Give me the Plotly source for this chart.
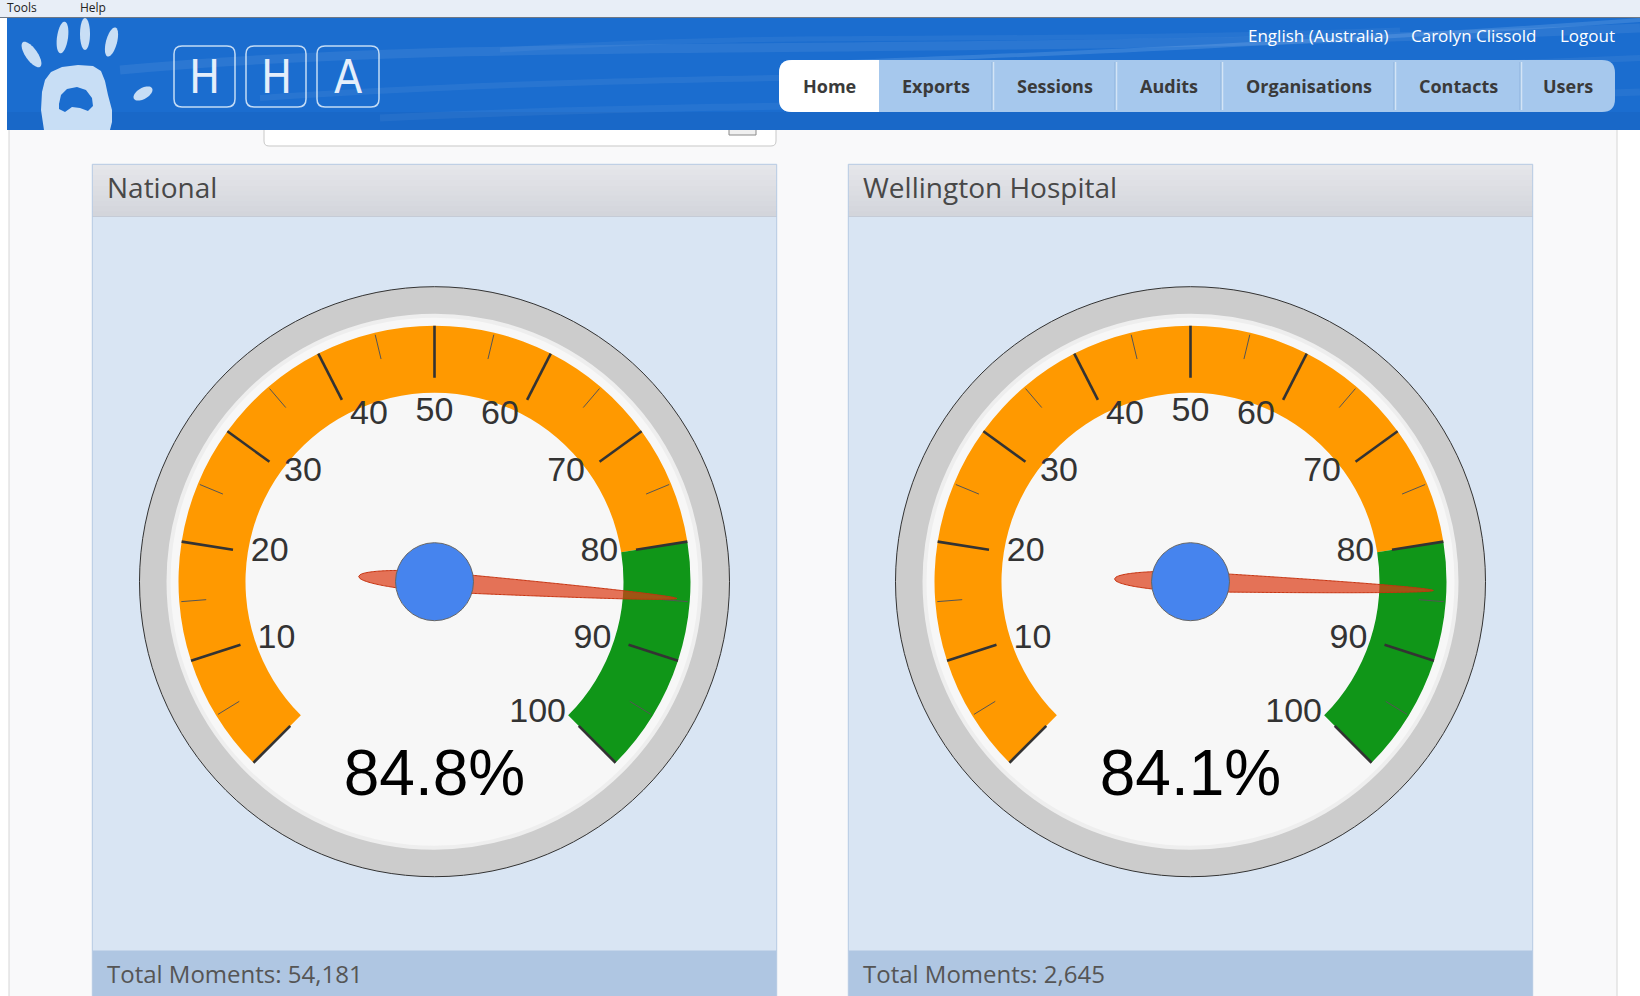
import numpy as np
import plotly.graph_objects as go

# ---------------- data ----------------
gauge_titles = ["National", "Wellington Hospital"]
gauge_values = [84.8, 84.1]
total_moments = [54181, 2645]
gauge_min, gauge_max = 0, 100
band_starts = [0, 80]
band_ends = [80, 100]
band_colors = ["#FF9900", "#109618"]
major_ticks = [0, 10, 20, 30, 40, 50, 60, 70, 80, 90, 100]
tick_labels = ["", "10", "20", "30", "40", "50", "60", "70", "80", "90", "100"]
minor_ticks = [5, 15, 25, 35, 45, 55, 65, 75, 85, 95]
nav_items = ["Home", "Exports", "Sessions", "Audits", "Organisations", "Contacts", "Users"]
user_links = ["English (Australia)", "Carolyn Clissold", "Logout"]
menu_items = ["Tools", "Help"]
logo_letters = ["H", "H", "A"]

# ---------------- page geometry (pixels) ----------------
W, H = 1640, 996


def X(px):
    return px / W


def Y(py):
    return 1 - py / H


def P(x, y):
    return f"{X(x):.6f},{Y(y):.6f}"


GAUGE_CX = [434.5, 1190.5]
GAUGE_CY = 581.7
R_BEZEL = 295
R_FACE = 266
BAND_IN, BAND_OUT = 189, 256
MAJOR_IN, MAJOR_OUT = 204, 256
MINOR_IN, MINOR_OUT = 229, 254
LABEL_R = 186
NEEDLE_TAIL, NEEDLE_TIP, NEEDLE_HALF = 76, 243, 10
HUB_D = 78
VALUE_R, VALUE_THETA = 197, 315
SWEEP = 270.0
START_ANGLE = 225  # direction of the gauge minimum, degrees counter-clockwise from east

PANEL_X = [(92.3, 776.7), (848.3, 1532.7)]
PANEL_TOP, TITLE_BOT, FOOT_TOP = 164.3, 216.5, 950.0
HEADER_TOP, HEADER_BOT = 18, 130
NAV_EDGES = [779, 879, 993, 1116, 1222, 1395, 1521, 1615]
NAV_TOP, NAV_BOT, NAV_Y = 60, 112, 86
LINK_X = [1318, 1473, 1587]
LINK_Y = 35.7
MENU_X = [5, 78]
LOGO_BOX_X = [(174, 235), (246, 306), (317, 379)]
LOGO_BOX_Y = (46, 107)
UI_FONT = "Open Sans, Liberation Sans, sans-serif"
GAUGE_FONT = "Liberation Sans, Arial, sans-serif"


def theta_of(v):
    return (float(v) - gauge_min) / (gauge_max - gauge_min) * SWEEP


def rrect(x0, y0, x1, y1, r, tl=True, tr=True, br=True, bl=True):
    a, b, c, d = (r if tl else 0), (r if tr else 0), (r if br else 0), (r if bl else 0)
    s = f"M{P(x0 + a, y0)} L{P(x1 - b, y0)} Q{P(x1, y0)} {P(x1, y0 + b)} "
    s += f"L{P(x1, y1 - c)} Q{P(x1, y1)} {P(x1 - c, y1)} "
    s += f"L{P(x0 + d, y1)} Q{P(x0, y1)} {P(x0, y1 - d)} "
    s += f"L{P(x0, y0 + a)} Q{P(x0, y0)} {P(x0 + a, y0)} Z"
    return s


def poly(points):
    return "M" + " L".join(P(x, y) for x, y in points) + " Z"


def ellipse(cx, cy, rx, ry, ang, n=48):
    t = np.linspace(0, 2 * np.pi, n, endpoint=False)
    u, v = rx * np.cos(t), ry * np.sin(t)
    a = np.radians(ang)
    xs = cx + u * np.cos(a) + v * np.sin(a)
    ys = cy - u * np.sin(a) + v * np.cos(a)
    return poly(list(zip(xs, ys)))


shapes = []


def rect(x0, y0, x1, y1, fill, line=None, lw=0):
    shapes.append(dict(type="rect", xref="paper", yref="paper", x0=X(x0), x1=X(x1), y0=Y(y1), y1=Y(y0),
                       fillcolor=fill, line=dict(color=line or fill, width=lw), layer="below"))


def path(d, fill=None, line=None, lw=0):
    shapes.append(dict(type="path", xref="paper", yref="paper", path=d,
                       fillcolor=fill or "rgba(0,0,0,0)",
                       line=dict(color=line or "rgba(0,0,0,0)", width=lw), layer="below"))


def hline(x0, x1, y, color, lw=1):
    shapes.append(dict(type="line", xref="paper", yref="paper", x0=X(x0), x1=X(x1), y0=Y(y), y1=Y(y),
                       line=dict(color=color, width=lw), layer="below"))


def vline(x, y0, y1, color, lw=1):
    shapes.append(dict(type="line", xref="paper", yref="paper", x0=X(x), x1=X(x), y0=Y(y0), y1=Y(y1),
                       line=dict(color=color, width=lw), layer="below"))


# page body
rect(9, HEADER_BOT, 1617, H + 2, "#f9f9fa")
vline(9, HEADER_BOT, H, "#d6d6d6")
vline(1617, HEADER_BOT, H, "#d6d6d6")
# search box remnant
path(rrect(264, 96, 776, 146, 5), fill="#ffffff", line="#c8c8c8", lw=1)
rect(729, 118, 756, 135, "#f0f0f0", "#8a8a8a", 1)

# top menu strip
rect(0, 0, W, 17, "#e8eef7")
hline(0, W, 17.5, "#6e7886", 1)

# header
rect(7, HEADER_TOP, W, HEADER_BOT, "#1b6dcf")
rect(7, 112, W, HEADER_BOT, "#1968c8")
for d, col, lw in [
    (f"M{P(120, 70)} C{P(500, 35)} {P(900, 60)} {P(1640, 28)}", "rgba(255,255,255,0.07)", 9),
    (f"M{P(260, 98)} C{P(700, 68)} {P(1100, 82)} {P(1640, 58)}", "rgba(255,255,255,0.06)", 6),
    (f"M{P(380, 118)} C{P(800, 98)} {P(1200, 108)} {P(1640, 92)}", "rgba(255,255,255,0.05)", 7),
    (f"M{P(850, 62)} C{P(1100, 52)} {P(1300, 44)} {P(1640, 20)}", "rgba(190,225,255,0.16)", 4),
    (f"M{P(500, 50)} C{P(800, 30)} {P(1000, 45)} {P(1400, 30)}", "rgba(255,255,255,0.05)", 5),
]:
    path(d, line=col, lw=lw)

# logo hand
LOGO = "#c8def5"
for cx, cy, rx, ry, ang in [(31.5, 54.5, 6, 15, 35), (62.5, 37.5, 5.5, 16, -8), (85, 34, 5, 16, 0),
                            (111.5, 42, 5.5, 15, -15), (143, 93.5, 10.5, 5.5, 30)]:
    path(ellipse(cx, cy, rx, ry, ang), fill=LOGO)
path(poly([(44, 130), (41, 110), (42, 92), (45, 80), (51, 72), (62, 67), (78, 65), (93, 66), (101, 71),
           (105, 81), (108, 95), (112, 110), (112, 122), (110, 130)]), fill=LOGO)
path(poly([(59, 104), (61, 95), (67, 89), (77, 87), (86, 90), (92, 98), (93, 106), (88, 111), (80, 108),
           (72, 107), (65, 112), (59, 109)]), fill="#1b6dcf")
for x0, x1 in LOGO_BOX_X:
    path(rrect(x0, LOGO_BOX_Y[0], x1, LOGO_BOX_Y[1], 8), line="rgba(225,238,252,0.85)", lw=1.5)

# nav bar
path(rrect(NAV_EDGES[0], NAV_TOP, NAV_EDGES[-1], NAV_BOT, 13), fill="#a6c8ed")
path(rrect(NAV_EDGES[0], NAV_TOP, NAV_EDGES[1], NAV_BOT, 13, tr=False, br=False), fill="#ffffff")
for xe in NAV_EDGES[2:-1]:
    vline(xe - 1, NAV_TOP + 2, NAV_BOT - 2, "#8fb3dc", 1)
    vline(xe + 0.5, NAV_TOP + 2, NAV_BOT - 2, "#d3e4f6", 1.5)

# panels
for (x0, x1) in PANEL_X:
    rect(x0, TITLE_BOT, x1, FOOT_TOP, "#d9e5f3")
    rect(x0, FOOT_TOP, x1, H + 2, "#afc6e2")
    hline(x0, x1, FOOT_TOP + 0.5, "#c4d5ea", 1)
    top_c, bot_c = np.array([230, 231, 235]), np.array([211, 213, 219])
    n = 10
    for k in range(n):
        c = top_c + (bot_c - top_c) * (k + 0.5) / n
        ya = PANEL_TOP + (TITLE_BOT - PANEL_TOP) * k / n
        yb = PANEL_TOP + (TITLE_BOT - PANEL_TOP) * (k + 1) / n + 0.6
        rect(x0, ya, x1, yb, f"rgb({int(c[0])},{int(c[1])},{int(c[2])})")
    hline(x0, x1, TITLE_BOT, "#c5cbd6", 1)
    rect(x0, PANEL_TOP, x1, H + 3, "rgba(0,0,0,0)", "#b6cae3", 1)

# gauge bezels
for cx in GAUGE_CX:
    shapes.append(dict(type="circle", xref="paper", yref="paper",
                       x0=X(cx - R_BEZEL), x1=X(cx + R_BEZEL), y0=Y(GAUGE_CY + R_BEZEL), y1=Y(GAUGE_CY - R_BEZEL),
                       fillcolor="#cccccc", line=dict(color="#333333", width=1), layer="below"))

# ---------------- gauges ----------------
fig = go.Figure()
polars = {}


def label_position(v):
    # screen x-direction of the tick: left half labels start at the point, right half end there
    sx = np.cos(np.radians(START_ANGLE - theta_of(v)))
    if abs(sx) < 1e-6:
        return "bottom center"
    return "middle right" if sx < 0 else "middle left"


for i, val in enumerate(gauge_values):
    sp = "polar" if i == 0 else f"polar{i + 1}"
    cx = GAUGE_CX[i]
    polars[sp] = dict(
        domain=dict(x=[X(cx - R_FACE), X(cx + R_FACE)], y=[Y(GAUGE_CY + R_FACE), Y(GAUGE_CY - R_FACE)]),
        bgcolor="#f7f7f7",
        radialaxis=dict(range=[0, R_FACE], visible=False),
        angularaxis=dict(rotation=START_ANGLE, direction="clockwise", showgrid=False, showticklabels=False,
                         ticks="", showline=True, linecolor="#eeeeee", linewidth=4),
    )
    # colour bands
    fig.add_trace(go.Barpolar(
        r=[BAND_OUT - BAND_IN] * len(band_starts), base=[BAND_IN] * len(band_starts),
        theta=[theta_of((s + e) / 2) for s, e in zip(band_starts, band_ends)],
        width=[theta_of(e) - theta_of(s) for s, e in zip(band_starts, band_ends)],
        marker=dict(color=band_colors, line=dict(width=0)), subplot=sp, hoverinfo="skip", showlegend=False))

    def segs(vals, r0, r1):
        rr, tt = [], []
        for v in vals:
            rr += [r0, r1, None]
            tt += [theta_of(v), theta_of(v), None]
        return rr, tt

    rr, tt = segs(minor_ticks, MINOR_IN, MINOR_OUT)
    fig.add_trace(go.Scatterpolar(r=rr, theta=tt, mode="lines", line=dict(color="#555555", width=1),
                                  subplot=sp, hoverinfo="skip", showlegend=False))
    rr, tt = segs(major_ticks, MAJOR_IN, MAJOR_OUT)
    fig.add_trace(go.Scatterpolar(r=rr, theta=tt, mode="lines", line=dict(color="#333333", width=2.6),
                                  subplot=sp, hoverinfo="skip", showlegend=False))
    fig.add_trace(go.Scatterpolar(r=[LABEL_R] * len(major_ticks), theta=[theta_of(v) for v in major_ticks],
                                  mode="text", text=tick_labels,
                                  textposition=[label_position(v) for v in major_ticks],
                                  textfont=dict(family=GAUGE_FONT, size=34, color="#333333"),
                                  subplot=sp, hoverinfo="skip", showlegend=False, cliponaxis=False))
    # needle
    s = np.linspace(-NEEDLE_TAIL, NEEDLE_TIP, 241)
    w = np.where(s < 0, NEEDLE_HALF * np.sqrt(np.clip(1 - (s / NEEDLE_TAIL) ** 2, 0, 1)),
                 NEEDLE_HALF * np.clip(1 - s / NEEDLE_TIP, 0, 1) ** 0.6)
    ss = np.concatenate([s, s[::-1]])
    ww = np.concatenate([w, -w[::-1]])
    nr = np.hypot(ss, ww)
    nt = theta_of(val) + np.degrees(np.arctan2(ww, ss))
    fig.add_trace(go.Scatterpolar(r=nr, theta=nt, mode="lines", fill="toself",
                                  fillcolor="rgba(220,57,18,0.7)", line=dict(color="#c63310", width=1),
                                  subplot=sp, hoverinfo="skip", showlegend=False))
    # hub
    fig.add_trace(go.Scatterpolar(r=[0], theta=[0], mode="markers",
                                  marker=dict(size=HUB_D, color="#4684EE", line=dict(color="#666666", width=1)),
                                  subplot=sp, hoverinfo="skip", showlegend=False))
    # value
    fig.add_trace(go.Scatterpolar(r=[VALUE_R], theta=[VALUE_THETA], mode="text", text=[f"{val:.1f}%"],
                                  textposition="middle center",
                                  textfont=dict(family=GAUGE_FONT, size=64, color="#000000"),
                                  subplot=sp, hoverinfo="skip", showlegend=False, cliponaxis=False))

# ---------------- texts ----------------
ann = []


def text(x, y, t, size, color, family=UI_FONT, anchor="center", weight="normal"):
    ann.append(dict(x=X(x), y=Y(y), xref="paper", yref="paper", text=t, showarrow=False,
                    xanchor=anchor, yanchor="middle",
                    font=dict(family=family, size=size, color=color, weight=weight)))


for x, t in zip(MENU_X, menu_items):
    text(x, 8, t, 12, "#222222", anchor="left")
for (x0, x1), t in zip(LOGO_BOX_X, logo_letters):
    text((x0 + x1) / 2, 77, t, 46, "#e4eefb",
         family="Liberation Sans Narrow, DejaVu Sans Condensed, Roboto, sans-serif", weight=300)
for x, t in zip(LINK_X, user_links):
    text(x, LINK_Y, t, 17, "#ffffff")
for k, t in enumerate(nav_items):
    text((NAV_EDGES[k] + NAV_EDGES[k + 1]) / 2, NAV_Y, t, 18, "#3a3a3a", weight="bold")
for (x0, x1), t, n in zip(PANEL_X, gauge_titles, total_moments):
    text(x0 + 13, (PANEL_TOP + TITLE_BOT) / 2 - 3, t, 28, "#484848", anchor="left")
    text(x0 + 13, 973, f"Total Moments: {n:,}", 24, "#555555", anchor="left")

fig.update_layout(
    width=W, height=H, margin=dict(l=0, r=0, t=0, b=0),
    paper_bgcolor="#ffffff", plot_bgcolor="rgba(0,0,0,0)",
    showlegend=False, shapes=shapes, annotations=ann,
    xaxis=dict(visible=False), yaxis=dict(visible=False),
    **polars,
)

fig.write_html("out.html", config={"displayModeBar": False},
               post_script="document.body.style.margin='0';document.body.style.overflow='hidden';")
